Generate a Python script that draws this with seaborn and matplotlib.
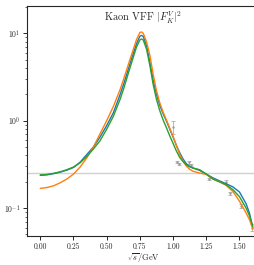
import numpy as np
import pandas as pd
import matplotlib
matplotlib.use('Agg')
import matplotlib.pyplot as plt
import seaborn as sns

# sqrt(s) grid (GeV)
sqrt_s = [0.00, 0.05, 0.10, 0.15, 0.20, 0.25, 0.30, 0.35, 0.40, 0.45, 0.50,
          0.55, 0.60, 0.625, 0.65, 0.675, 0.70, 0.725, 0.75, 0.7625, 0.775,
          0.80, 0.825, 0.85, 0.875, 0.90, 0.925, 0.95, 0.975, 1.00, 1.025,
          1.05, 1.075, 1.10, 1.125, 1.15, 1.20, 1.25, 1.30, 1.35, 1.40, 1.45,
          1.50, 1.55, 1.575, 1.60]

ff_blue = [0.237, 0.240, 0.248, 0.258, 0.272, 0.292, 0.335, 0.41, 0.50, 0.65, 0.88,
           1.23, 1.97, 2.55, 3.35, 4.45, 5.85, 7.6, 9.25, 9.45, 9.2,
           7.2, 4.7, 2.9, 2.0, 1.5, 1.2, 0.99, 0.80, 0.65, 0.52,
           0.43, 0.365, 0.322, 0.30, 0.287, 0.27, 0.245, 0.222, 0.205, 0.19, 0.175,
           0.153, 0.112, 0.088, 0.060]

ff_orange = [0.168, 0.172, 0.180, 0.195, 0.215, 0.245, 0.295, 0.375, 0.50, 0.71, 1.0,
             1.45, 2.25, 2.9, 3.8, 5.0, 6.5, 8.5, 10.2, 10.35, 10.0,
             8.0, 5.6, 3.4, 2.2, 1.6, 1.25, 1.02, 0.82, 0.66, 0.52,
             0.41, 0.345, 0.303, 0.278, 0.264, 0.252, 0.243, 0.215, 0.20, 0.182, 0.155,
             0.12, 0.088, 0.074, 0.058]

ff_green = [0.240, 0.243, 0.250, 0.260, 0.275, 0.295, 0.33, 0.39, 0.475, 0.59, 0.80,
            1.12, 1.74, 2.25, 3.0, 4.0, 5.3, 7.0, 8.4, 8.6, 8.4,
            6.6, 4.3, 2.6, 1.75, 1.3, 1.02, 0.83, 0.67, 0.55, 0.45,
            0.38, 0.34, 0.312, 0.297, 0.288, 0.275, 0.245, 0.215, 0.20, 0.185, 0.163,
            0.135, 0.10, 0.082, 0.062]

# measured points
data_x = [1.00, 1.027, 1.044, 1.12, 1.132, 1.27, 1.40, 1.428, 1.509, 1.592]
data_y = [0.84, 0.34, 0.32, 0.335, 0.31, 0.216, 0.198, 0.147, 0.106, 0.060]
data_err = [0.14, 0.01, 0.01, 0.012, 0.008, 0.008, 0.01, 0.006, 0.005, 0.005]

threshold = 0.255

if __name__ == '__main__':
    sns.set_style('ticks')
    plt.rcParams['font.family'] = 'serif'
    plt.rcParams['font.serif'] = ['cmr10', 'DejaVu Serif']
    plt.rcParams['mathtext.fontset'] = 'cm'
    plt.rcParams['axes.formatter.use_mathtext'] = True
    plt.rcParams['axes.linewidth'] = 0.8
    plt.rcParams['xtick.major.size'] = 3
    plt.rcParams['ytick.major.size'] = 3
    plt.rcParams['ytick.minor.size'] = 1.8
    plt.rcParams['xtick.major.width'] = 0.7
    plt.rcParams['ytick.major.width'] = 0.7
    plt.rcParams['ytick.minor.width'] = 0.5

    df = pd.DataFrame({
        'sqrt_s': sqrt_s * 3,
        'ff': ff_blue + ff_orange + ff_green,
        'model': ['a'] * len(sqrt_s) + ['b'] * len(sqrt_s) + ['c'] * len(sqrt_s),
    })

    fig = plt.figure(figsize=(2.54, 2.65), dpi=100)
    ax = fig.add_axes([27 / 254, 29 / 265, 232.4 / 254, 230 / 265])

    ax.axhline(threshold, color='0.82', lw=1.0, zorder=1)
    ax.errorbar(data_x, data_y, yerr=data_err, fmt='.', color='0.62', ms=1.5,
                capsize=1.3, elinewidth=0.5, capthick=0.5, zorder=2)
    sns.lineplot(data=df, x='sqrt_s', y='ff', hue='model', ax=ax,
                 palette=['#1f77b4', '#ff7f0e', '#2ca02c'], lw=1.0,
                 legend=False, zorder=3)

    ax.set_yscale('log')
    ax.set_xlim(-0.1, 1.65)
    ax.set_ylim(0.048, 20.5)
    ax.set_xticks([0.0, 0.25, 0.5, 0.75, 1.0, 1.25, 1.5])
    ax.set_xticklabels(['0.00', '0.25', '0.50', '0.75', '1.00', '1.25', '1.50'])
    ax.tick_params(labelsize=5.5, pad=2)
    ax.set_xlabel(r'$\sqrt{s}$/GeV', fontsize=6, labelpad=0)
    ax.set_ylabel('')
    ax.text(0.5, 0.95, r'Kaon VFF $|F_K^V|^2$', transform=ax.transAxes,
            ha='center', va='center', fontsize=7.5)

    fig.savefig('out.png', dpi=100)
    plt.close()
